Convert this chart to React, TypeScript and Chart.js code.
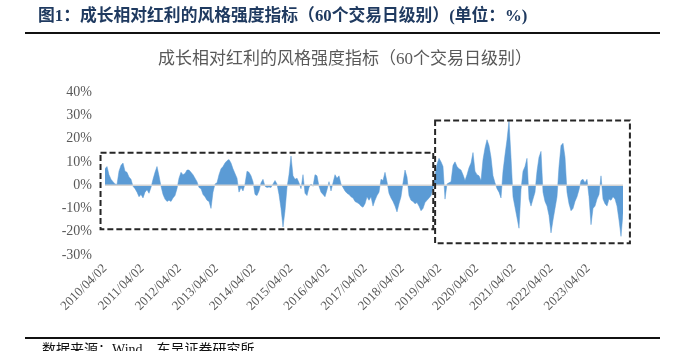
import React, { useEffect, useRef } from "react";
import { Chart, registerables } from "chart.js";

Chart.register(...registerables);

const headerTitle = "图1：成长相对红利的风格强度指标（60个交易日级别）(单位：%)";
const chartTitle = "成长相对红利的风格强度指标（60个交易日级别）";
const sourceText = "数据来源：Wind，东吴证券研究所";

const tickLabels = [
  "2010/04/02", "2011/04/02", "2012/04/02", "2013/04/02", "2014/04/02",
  "2015/04/02", "2016/04/02", "2017/04/02", "2018/04/02", "2019/04/02",
  "2020/04/02", "2021/04/02", "2022/04/02", "2023/04/02",
];
const yTicks = [-30, -20, -10, 0, 10, 20, 30, 40];

const startYear = 2010.25;
const sampleStep = 0.0538;

// style-strength index (%)
const s2010to2012 = [7, 8, 4.5, 2.5, 1.5, 0.5, 0.3, 6, 8.5, 9.5, 6, 5.5, 3.5, 2.5, -0.5, -1.5, -3, -5, -4, -5.5, -3, -2, -3.5, -1, 2.5, 5.5, 8, 4, -0.5, -4, -6, -7, -6.5, -7, -5.5, -4.5, -1.5, 3, 5.5, 4.5, 5, 6.5];
const s2012to2014 = [6.5, 5.5, 4.5, 3, 1.5, -1, -1.5, -4, -5, -6.5, -7, -10, -3, 0.5, 1, 4.5, 7, 8, 9.5, 10.5, 11, 9.5, 7, 5, 3, -3, -1, -2.5, 0.5, 6, 5.5, 4, 1.5, -4, -4.5, -2.5, 1, 2.5, -0.5, -1, -0.8, -1, 0.5, 2, 0.5];
const s2014to2017 = [-4, -10, -18, -11, -1, 4.5, 12.5, 4, 2.5, 3, 1, -1.5, 4.5, -3.5, -4.5, -1, 0.5, -0.5, 4.5, 4, -0.5, -3, -4, -5, -2, 1.5, -2.5, 1, 4.5, 3, 4, 0.5, -1, -2.5, -3.5, -4, -5, -5.5, -7, -7.5, -8, -9, -9.5, -8];
const s2017to2019 = [-5, -6.5, -5, -9, -6.5, -4.5, -3, 2.5, 2, 5.5, 1.5, -3.5, -5.5, -7, -9, -11.5, -8, -5, 1, 6.5, 3.5, -4.5, -6.5, -7, -8, -7.5, -9, -11, -10, -7.5, -6.5, -5.5, -4.5, -1.5];
const s2019to2024 = [
  4, 9, 11.5, 10, 8, -6, 0.5, 1, 1.5, 8.5,
  10, 8, 7, 6.5, 4.5, 2, 4.5, 7.5, 9.5, 14,
  6, 4.5, 4, 2, 11, 16, 19.5, 17, 12, 4,
  1, -1.5, -3, -5.5, 6, 13, 19.5, 27.5, 12, -5,
  -9.5, -14, -18.5, -2, 6, 8, 11.5, -6, -9, -6,
  -3, 6, 12, 14.5, -3, -7, -9, -13, -20.5, -15,
  -10, -5, 8, 17, 18, 12, -3, -8, -11, -10,
  -7, -5, -2, 2, 2.5, 1, 2.5, -5, -17, -10,
  -9, -6, -4, 4, -6, -8, -9, -6, -6.5, -5,
  -6, -9, -15, -22, -12,
];

const strength = [...s2010to2012, ...s2012to2014, ...s2014to2017, ...s2017to2019, ...s2019to2024];

// dashed highlight boxes, in data units (x: year, y: %)
const boxX0 = [2010.13, 2019.13];
const boxX1 = [2019.08, 2024.37];
const boxYTop = [13.9, 27.8];
const boxYBottom = [-18.9, -25];

const serif = "'Liberation Serif', 'Noto Sans CJK SC', serif";

const decor = {
  id: "decor",
  beforeDraw(chart: any) {
    const ctx = chart.ctx;
    ctx.save();
    ctx.fillStyle = "#ffffff";
    ctx.fillRect(0, 0, chart.width, chart.height);
    // header
    ctx.fillStyle = "#1F3A60";
    ctx.font = "bold 16.8px " + serif;
    ctx.textAlign = "left";
    ctx.textBaseline = "middle";
    ctx.fillText(headerTitle, 38, 17);
    ctx.strokeStyle = "#111111";
    ctx.lineWidth = 2;
    ctx.beginPath();
    ctx.moveTo(25, 33);
    ctx.lineTo(660, 33);
    ctx.stroke();
    // chart title
    ctx.fillStyle = "#595959";
    ctx.font = "17px " + serif;
    ctx.textAlign = "center";
    ctx.fillText(chartTitle, 345, 60);
    // bottom rule and source
    ctx.beginPath();
    ctx.moveTo(25, 338);
    ctx.lineTo(660, 338);
    ctx.stroke();
    ctx.fillStyle = "#111111";
    ctx.font = "14px " + serif;
    ctx.textAlign = "left";
    ctx.textBaseline = "top";
    ctx.fillText(sourceText, 42, 343);
    ctx.restore();
  },
  afterDatasetsDraw(chart: any) {
    const ctx = chart.ctx;
    const xs = chart.scales.x;
    const ys = chart.scales.y;
    const area = chart.chartArea;
    ctx.save();
    const y0 = ys.getPixelForValue(0);
    ctx.strokeStyle = "#D4D4D4";
    ctx.lineWidth = 1.5;
    ctx.beginPath();
    ctx.moveTo(area.left, y0);
    ctx.lineTo(area.right, y0);
    ctx.stroke();
    ctx.strokeStyle = "#262626";
    ctx.lineWidth = 2;
    ctx.setLineDash([6, 3]);
    for (let i = 0; i < boxX0.length; i++) {
      const l = xs.getPixelForValue(boxX0[i]);
      const r = xs.getPixelForValue(boxX1[i]);
      const t = ys.getPixelForValue(boxYTop[i]);
      const b = ys.getPixelForValue(boxYBottom[i]);
      ctx.strokeRect(l, t, r - l, b - t);
    }
    ctx.restore();
  },
};

export default function App() {
  const ref = useRef<HTMLCanvasElement>(null);
  useEffect(() => {
    const points = strength.map((v, i) => ({ x: startYear + i * sampleStep, y: v }));
    const chart = new Chart(ref.current as HTMLCanvasElement, {
      type: "line",
      data: {
        datasets: [
          {
            data: points,
            fill: "origin",
            backgroundColor: "#5B9BD5",
            borderColor: "#5B9BD5",
            borderWidth: 0.5,
            pointRadius: 0,
            tension: 0,
          },
        ],
      },
      options: {
        responsive: false,
        animation: false,
        layout: { padding: { left: 0, right: 66, top: 92, bottom: 0 } },
        plugins: {
          legend: { display: false },
          tooltip: { enabled: false },
          title: { display: false },
        },
        scales: {
          x: {
            type: "linear",
            min: startYear,
            max: startYear + (strength.length - 1) * sampleStep,
            afterBuildTicks: (s: any) => {
              s.ticks = tickLabels.map((_, i) => ({ value: startYear + i }));
            },
            afterFit: (s: any) => {
              s.height = 96;
            },
            grid: { display: false, drawTicks: false },
            border: { display: false },
            ticks: {
              autoSkip: false,
              maxRotation: 45,
              minRotation: 45,
              padding: 6,
              color: "#595959",
              font: { family: serif, size: 13 },
              callback: (_v: any, i: number) => tickLabels[i],
            },
          },
          y: {
            min: -30,
            max: 40,
            afterBuildTicks: (s: any) => {
              s.ticks = yTicks.map((v) => ({ value: v }));
            },
            afterFit: (s: any) => {
              s.width = 105;
            },
            grid: { display: false, drawTicks: false },
            border: { display: false },
            ticks: {
              padding: 13,
              color: "#595959",
              font: { family: serif, size: 14 },
              callback: (v: any) => v + "%",
            },
          },
        },
      } as any,
      plugins: [decor],
    });
    return () => chart.destroy();
  }, []);
  return (
    <div style={{ position: "fixed", left: 0, top: 0, width: 689, height: 351, background: "#fff" }}>
      <canvas ref={ref} width={689} height={351} style={{ display: "block" }} />
    </div>
  );
}
